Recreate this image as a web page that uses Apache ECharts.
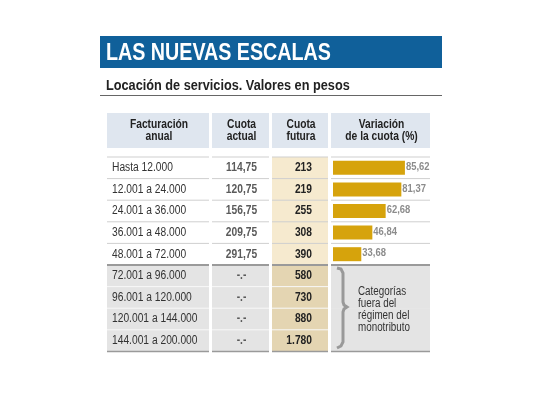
<!DOCTYPE html>
<html>
<head>
<meta charset="utf-8">
<title>Las nuevas escalas</title>
<script src="https://cdn.jsdelivr.net/npm/echarts@6/dist/echarts.min.js"></script>
<style>
    body { margin: 0; background: #fff; }
    #chart { width: 540px; height: 405px; }
</style>
</head>
<body>
<div id="chart"></div>
<script>
// datos de la tabla
var facturacion = ['Hasta 12.000', '12.001 a 24.000', '24.001 a 36.000', '36.001 a 48.000', '48.001 a 72.000',
    '72.001 a 96.000', '96.001 a 120.000', '120.001 a 144.000', '144.001 a 200.000'];
var cuotaActual = [114.75, 120.75, 156.75, 209.75, 291.75, null, null, null, null];
var cuotaFutura = [213, 219, 255, 308, 390, 580, 730, 880, 1780];
var variacion = [85.62, 81.37, 62.68, 46.84, 33.68];
var encabezados = ['Facturación\nanual', 'Cuota\nactual', 'Cuota\nfutura', 'Variación\nde la cuota (%)'];
var notaFuera = 'Categorías\nfuera del\nrégimen del\nmonotributo';

// Arial Narrow no esta, se simula estrechando Liberation Sans
var FONT = "'Liberation Sans', Arial, sans-serif";
var NARROW = 0.82;

// columnas: [x relativo, ancho]
var cols = [[0, 102], [105, 57], [165, 56], [224, 99]];

function decimal(v)
{
    if (v == null) return '-.-';
    return v.toFixed(2).replace('.', ',');
}

function miles(v)
{
    var s = String(v);
    return s.replace(/\B(?=(\d{3})+(?!\d))/g, '.');
}

function txt(x, y, text, font, fill, align, lineHeight)
{
    return {
        type: 'text',
        x: x,
        y: y,
        scaleX: NARROW,
        z: 10,
        style: {text: text, x: 0, y: 0, align: align || 'left', verticalAlign: 'middle',
            font: font, fill: fill, lineHeight: lineHeight || undefined}
    };
}

function renderRow(params, api)
{
    var r = api.value(0);
    var c = api.coord([0, r]);
    var h = api.size([0, 1])[1];
    var top = c[1] - h / 2;
    var x0 = params.coordSys.x;
    var gray = r >= 5;
    var kids = [];

    for (var i = 0; i < cols.length; i++)
    {
        var fill;
        if (i == 2) fill = gray ? '#e4d5b2' : '#f6eacf';
        else fill = gray ? '#e4e4e4' : '#ffffff';
        kids.push({
            type: 'rect',
            shape: {x: x0 + cols[i][0], y: top, width: cols[i][1], height: h + 0.5},
            style: {fill: fill}
        });
        // linea superior de la fila
        if (!(gray && i == 3 && r > 5))
        {
            var stroke = '#cfcfcf', lw = 1;
            if (r == 5) { stroke = '#9a9a9a'; lw = 2; }
            else if (gray) { stroke = '#f8f8f8'; lw = 1; }
            kids.push({
                type: 'line',
                shape: {x1: x0 + cols[i][0], y1: top, x2: x0 + cols[i][0] + cols[i][1], y2: top},
                style: {stroke: stroke, lineWidth: lw}
            });
        }
        if (r == facturacion.length - 1)
        {
            kids.push({
                type: 'line',
                shape: {x1: x0 + cols[i][0], y1: top + h, x2: x0 + cols[i][0] + cols[i][1], y2: top + h},
                style: {stroke: '#9a9a9a', lineWidth: 1.5}
            });
        }
    }

    kids.push(txt(x0 + 5, c[1], facturacion[r], '12.5px ' + FONT, '#333', 'left'));
    kids.push(txt(x0 + cols[1][0] + cols[1][1] / 2 + 1, c[1], decimal(cuotaActual[r]),
        'bold 12.5px ' + FONT, '#5a5a5a', 'center'));
    kids.push(txt(x0 + cols[2][0] + 40, c[1], miles(cuotaFutura[r]),
        'bold 12.5px ' + FONT, '#222', 'right'));
    return {type: 'group', children: kids};
}

// etiqueta del porcentaje al final de cada barra
function renderLabel(params, api)
{
    var v = api.value(0);
    var p = api.coord([v, api.value(1)]);
    var t = txt(p[0] + 1, p[1] - 1, decimal(v), 'bold 11.5px ' + FONT, '#8c8c8c', 'left');
    return t;
}

var headerGraphics = [];
for (var i = 0; i < cols.length; i++)
{
    headerGraphics.push({
        type: 'rect',
        shape: {x: 107 + cols[i][0], y: 113, width: cols[i][1], height: 35},
        style: {fill: '#dfe6ef'}
    });
    headerGraphics.push(txt(107 + cols[i][0] + cols[i][1] / 2 + 1, 131, encabezados[i],
        'bold 12.5px ' + FONT, '#222', 'center', 12));
}

var rowIdx = [];
for (var k = 0; k < facturacion.length; k++) rowIdx.push([k]);
var labelData = [];
for (var j = 0; j < variacion.length; j++) labelData.push([variacion[j], j]);

var myChart = echarts.init(document.getElementById('chart'));
option = {
    animation: false,
    grid: [
        {left: 107, top: 157, width: 323, height: 194.4},
        {left: 333, top: 157, width: 84, height: 194.4}
    ],
    xAxis: [
        {type: 'value', gridIndex: 0, min: 0, max: 323, show: false},
        {type: 'value', gridIndex: 1, min: 0, max: 100, show: false}
    ],
    yAxis: [
        {type: 'category', gridIndex: 0, data: facturacion, inverse: true, show: false},
        {type: 'category', gridIndex: 1, data: facturacion, inverse: true, show: false}
    ],
    graphic: [
        {
            type: 'rect',
            shape: {x: 100, y: 36, width: 342, height: 32},
            style: {fill: '#10609a'}
        },
        txt(106, 53, 'LAS NUEVAS ESCALAS', 'bold 24px ' + FONT, '#fff', 'left'),
        txt(106, 86, 'Locación de servicios. Valores en pesos', 'bold 15.5px ' + FONT, '#222', 'left'),
        {
            type: 'line',
            shape: {x1: 100, y1: 95.5, x2: 442, y2: 95.5},
            style: {stroke: '#666', lineWidth: 1}
        },
        {
            type: 'polyline',
            z: 10,
            shape: {points: [[337, 268], [341, 269], [343, 273], [343, 302], [344, 305], [347, 307],
                [344, 309], [343, 312], [343, 342], [341, 346], [337, 348]]},
            style: {stroke: '#999', lineWidth: 3, fill: null}
        },
        txt(358, 310, notaFuera, '12px ' + FONT, '#333', 'left', 12)
    ].concat(headerGraphics),
    series: [
        {
            type: 'custom',
            xAxisIndex: 0,
            yAxisIndex: 0,
            z: 1,
            renderItem: renderRow,
            data: rowIdx
        },
        {
            type: 'bar',
            xAxisIndex: 1,
            yAxisIndex: 1,
            z: 5,
            barWidth: 14,
            itemStyle: {color: '#d6a30c'},
            data: variacion
        },
        {
            type: 'custom',
            xAxisIndex: 1,
            yAxisIndex: 1,
            z: 6,
            renderItem: renderLabel,
            data: labelData
        }
    ]
};
myChart.setOption(option);
</script>
</body>
</html>
